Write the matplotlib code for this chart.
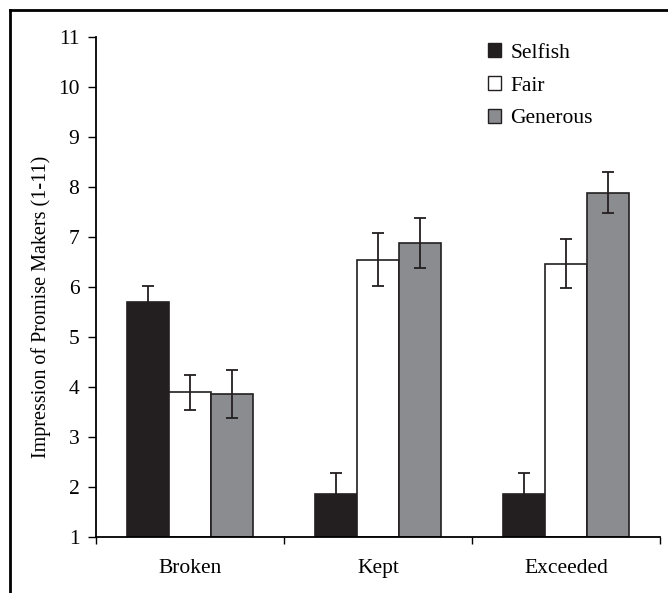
import numpy as np
import matplotlib.pyplot as plt
from matplotlib.patches import Patch
from matplotlib.lines import Line2D

plt.rcParams['font.family'] = ['Liberation Serif', 'DejaVu Serif']

# Data
conditions = ['Broken', 'Kept', 'Exceeded']
series = ['Selfish', 'Fair', 'Generous']
selfish = [5.70, 1.86, 1.86]
selfish_err = [0.32, 0.42, 0.42]
fair = [3.90, 6.55, 6.47]
fair_err = [0.35, 0.53, 0.49]
generous = [3.86, 6.89, 7.89]
generous_err = [0.48, 0.50, 0.41]

colors = ['#231f20', '#ffffff', '#8b8c8f']
values = [selfish, fair, generous]
errors = [selfish_err, fair_err, generous_err]

fig = plt.figure(figsize=(6.68, 5.93), dpi=100)
ax = fig.add_axes([96 / 668, 56 / 593, 564 / 668, 500 / 593])

x = np.arange(len(conditions))
w = 0.222
for i in range(3):
    pos = x + (i - 1) * w
    ax.bar(pos, np.array(values[i]) - 1, bottom=1, width=w, color=colors[i],
           edgecolor='#231f20', linewidth=1.2, zorder=2)
    ax.errorbar(pos, values[i], yerr=errors[i], fmt='none', ecolor='#231f20',
                elinewidth=1.3, capsize=4.5, capthick=1.3, zorder=3)

fs = 15.5
ax.set_xlim(-0.5, 2.5)
ax.set_ylim(1, 11)
ax.set_yticks(range(1, 12))
ax.set_xticks([-0.5, 0.5, 1.5, 2.5])
ax.set_xticklabels([])
ax.set_xticks(x, minor=True)
ax.set_xticklabels(conditions, minor=True, fontsize=fs)
ax.tick_params(axis='x', which='minor', length=0, pad=16)
ax.tick_params(axis='x', which='major', length=5, width=1, direction='out')
ax.tick_params(axis='y', length=6, width=1, labelsize=fs, pad=6)
ax.spines['top'].set_visible(False)
ax.spines['right'].set_visible(False)
ax.spines['left'].set_linewidth(1.3)
ax.spines['bottom'].set_linewidth(1.3)
ax.set_ylabel('Impression of Promise Makers (1-11)', fontsize=14.5)
ax.yaxis.set_label_coords(-0.08, 0.46)

handles = [Patch(facecolor=colors[i], edgecolor='#231f20', linewidth=1) for i in range(3)]
ax.legend(handles, series, loc='upper left', bbox_to_anchor=(0.66, 1.026),
          frameon=False, fontsize=fs, handlelength=0.6, handleheight=0.6,
          handletextpad=0.45, labelspacing=0.62)

# outer frame lines (left and top)
fig.add_artist(Line2D([9.5 / 668, 9.5 / 668], [0, 1 - 10 / 593], color='black', lw=2,
                      transform=fig.transFigure))
fig.add_artist(Line2D([9.5 / 668, 1], [1 - 10 / 593, 1 - 10 / 593], color='black', lw=2,
                      transform=fig.transFigure))

fig.savefig('out.png', dpi=100)
